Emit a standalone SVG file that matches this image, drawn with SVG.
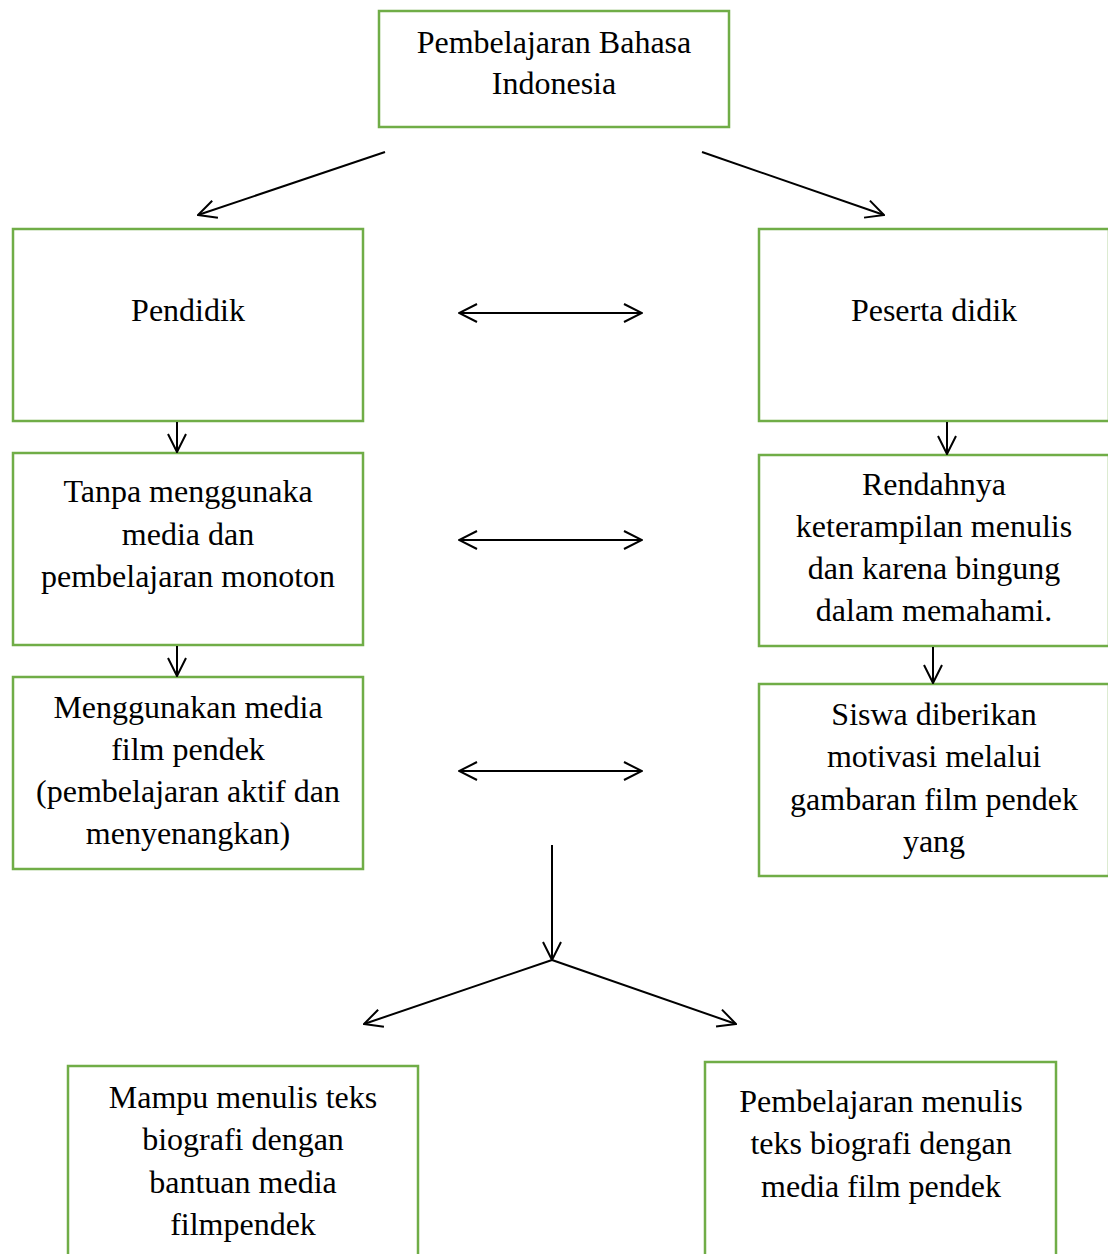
<svg xmlns="http://www.w3.org/2000/svg" width="1108" height="1254" viewBox="0 0 1108 1254">
<style>
.box{fill:#fff;stroke:#70AD47;stroke-width:2.5}
.t{font-family:"Liberation Serif","Times New Roman",serif;font-size:32px;fill:#000;text-anchor:middle}
.c{stroke:#000;stroke-width:2;fill:none}
</style>
<defs>
<marker id="ah" viewBox="0 0 20 20" markerWidth="20" markerHeight="20" refX="19" refY="10" orient="auto-start-reverse" markerUnits="userSpaceOnUse">
<path d="M1,1 L19,10 L1,19" fill="none" stroke="#000" stroke-width="2"/>
</marker>
</defs>
<rect width="1108" height="1254" fill="#fff"/>
<g id="n-top"><rect class="box" x="379" y="11" width="350" height="116"/><text class="t" x="554" y="53">Pembelajaran Bahasa</text><text class="t" x="554" y="94">Indonesia</text></g>
<g id="n-pendidik"><rect class="box" x="13" y="229" width="350" height="192"/><text class="t" x="188" y="321">Pendidik</text></g>
<g id="n-peserta"><rect class="box" x="759" y="229" width="350" height="192"/><text class="t" x="934" y="321">Peserta didik</text></g>
<g id="n-tanpa"><rect class="box" x="13" y="453" width="350" height="192"/><text class="t" x="188" y="502">Tanpa menggunaka</text><text class="t" x="188" y="545">media dan</text><text class="t" x="188" y="587">pembelajaran monoton</text></g>
<g id="n-rendah"><rect class="box" x="759" y="455" width="350" height="191"/><text class="t" x="934" y="495">Rendahnya</text><text class="t" x="934" y="537">keterampilan menulis</text><text class="t" x="934" y="579">dan karena bingung</text><text class="t" x="934" y="621">dalam memahami.</text></g>
<g id="n-menggunakan"><rect class="box" x="13" y="677" width="350" height="192"/><text class="t" x="188" y="718">Menggunakan media</text><text class="t" x="188" y="760">film pendek</text><text class="t" x="188" y="802">(pembelajaran aktif dan</text><text class="t" x="188" y="844">menyenangkan)</text></g>
<g id="n-siswa"><rect class="box" x="759" y="684" width="350" height="192"/><text class="t" x="934" y="725">Siswa diberikan</text><text class="t" x="934" y="767">motivasi melalui</text><text class="t" x="934" y="810">gambaran film pendek</text><text class="t" x="934" y="852">yang</text></g>
<g id="n-mampu"><rect class="box" x="68" y="1066" width="350" height="200"/><text class="t" x="243" y="1108">Mampu menulis teks</text><text class="t" x="243" y="1150">biografi dengan</text><text class="t" x="243" y="1193">bantuan media</text><text class="t" x="243" y="1235">filmpendek</text></g>
<g id="n-pembmenulis"><rect class="box" x="705" y="1062" width="351" height="204"/><text class="t" x="881" y="1112">Pembelajaran menulis</text><text class="t" x="881" y="1154">teks biografi dengan</text><text class="t" x="881" y="1197">media film pendek</text></g>
<g id="connectors">
<line class="c" x1="385" y1="152" x2="198" y2="215" marker-end="url(#ah)"/>
<line class="c" x1="702" y1="152" x2="884" y2="215" marker-end="url(#ah)"/>
<line class="c" x1="459" y1="313" x2="642" y2="313" marker-start="url(#ah)" marker-end="url(#ah)"/>
<line class="c" x1="459" y1="540" x2="642" y2="540" marker-start="url(#ah)" marker-end="url(#ah)"/>
<line class="c" x1="459" y1="771" x2="642" y2="771" marker-start="url(#ah)" marker-end="url(#ah)"/>
<line class="c" x1="177" y1="422" x2="177" y2="452" marker-end="url(#ah)"/>
<line class="c" x1="947" y1="422" x2="947" y2="454" marker-end="url(#ah)"/>
<line class="c" x1="177" y1="646" x2="177" y2="676" marker-end="url(#ah)"/>
<line class="c" x1="933" y1="647" x2="933" y2="683" marker-end="url(#ah)"/>
<line class="c" x1="552" y1="845" x2="552" y2="960" marker-end="url(#ah)"/>
<line class="c" x1="552" y1="960" x2="364" y2="1024" marker-end="url(#ah)"/>
<line class="c" x1="552" y1="960" x2="736" y2="1024" marker-end="url(#ah)"/>
</g>
</svg>
